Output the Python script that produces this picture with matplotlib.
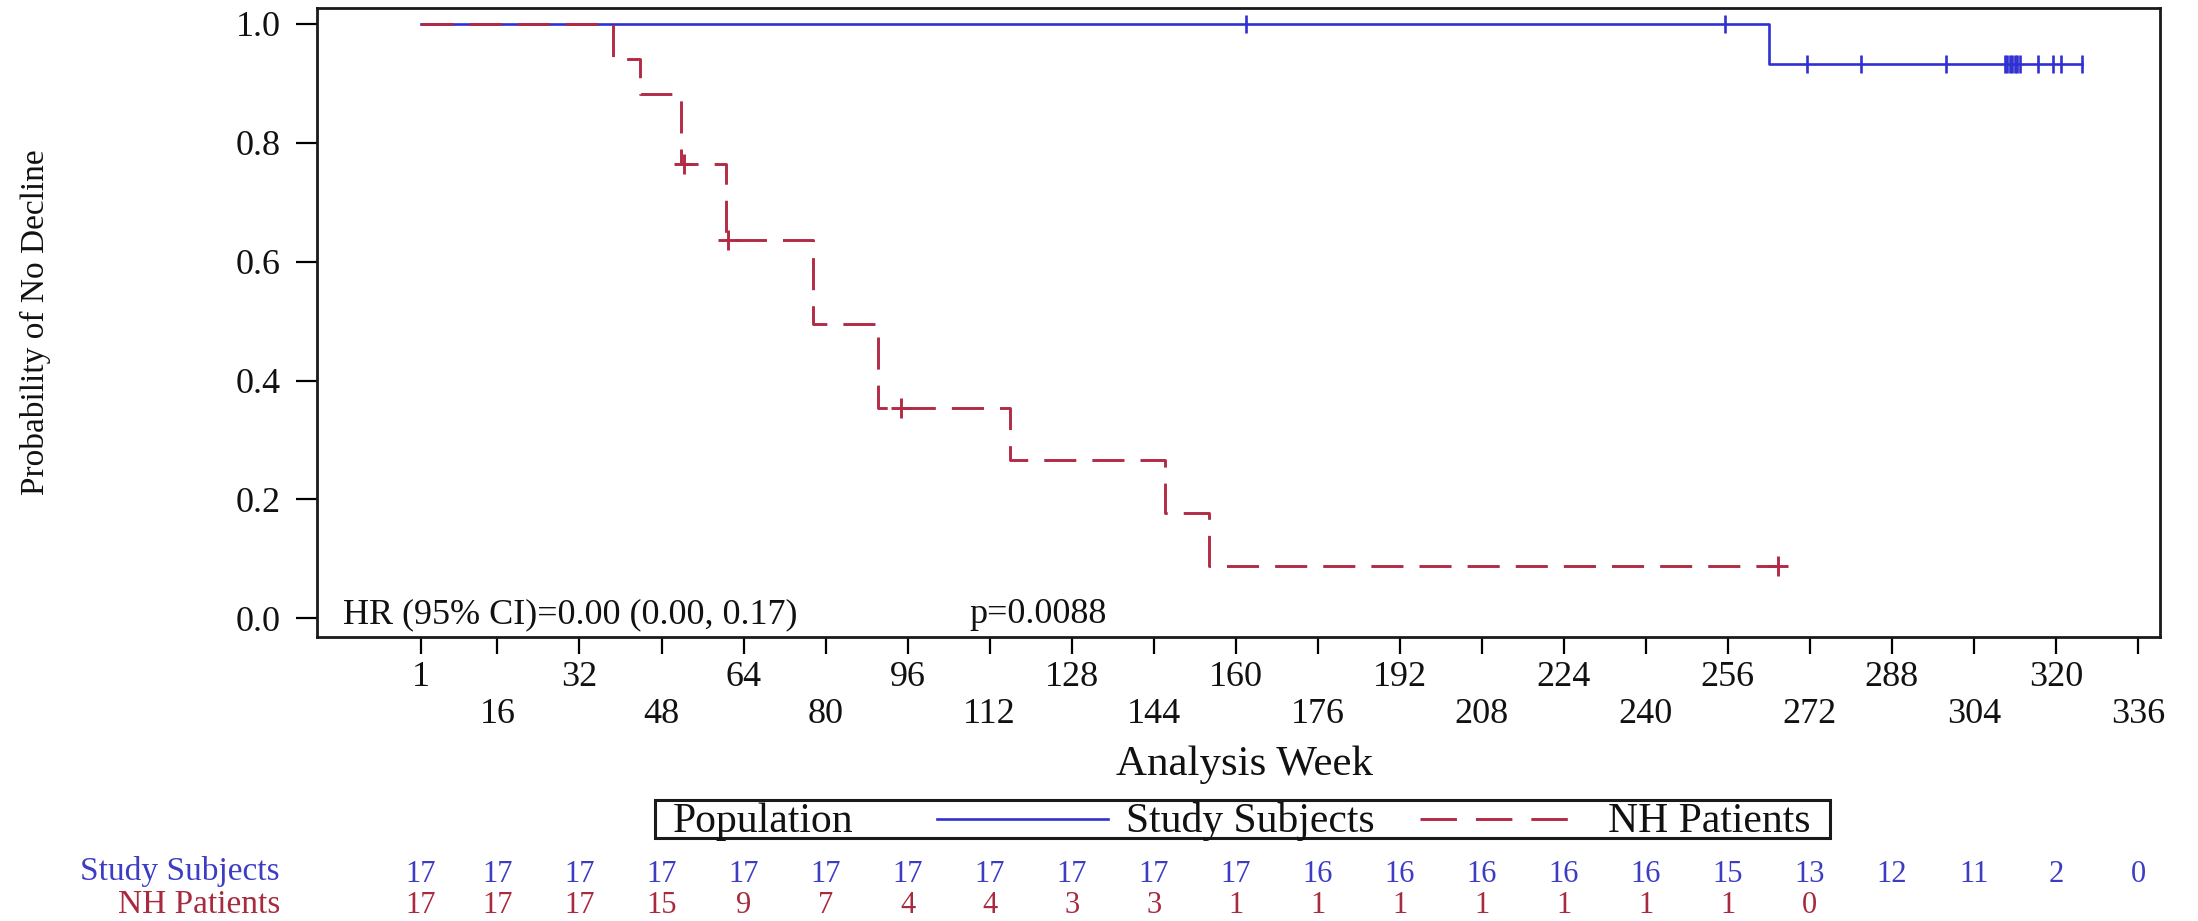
import matplotlib
matplotlib.use("Agg")
import matplotlib.pyplot as plt
from matplotlib.transforms import blended_transform_factory
from matplotlib.patches import Rectangle
from matplotlib.lines import Line2D

# ---------------- data ----------------
week_ticks = [1, 16, 32, 48, 64, 80, 96, 112, 128, 144, 160, 176, 192, 208,
              224, 240, 256, 272, 288, 304, 320, 336]
y_ticks = [0.0, 0.2, 0.4, 0.6, 0.8, 1.0]
y_tick_labels = ["0.0", "0.2", "0.4", "0.6", "0.8", "1.0"]

# Study Subjects (KM step curve)
study_step_weeks = [1, 264, 325]
study_step_surv = [1.0, 0.9333, 0.9333]
study_censor_weeks = [162, 255.5, 271.5, 282, 298.5, 310, 310.5, 311, 311.5,
                      312, 312.5, 313, 316.5, 319.5, 321, 325]
study_censor_surv = [1.0, 1.0, 0.9333, 0.9333, 0.9333, 0.9333, 0.9333, 0.9333,
                     0.9333, 0.9333, 0.9333, 0.9333, 0.9333, 0.9333, 0.9333, 0.9333]

# NH Patients (KM step curve)
nh_step_weeks = [1, 38.5, 43.9, 51.9, 60.6, 77.6, 90.2, 115.9, 146.3, 154.7, 265.7]
nh_step_surv = [1.0, 0.941, 0.882, 0.765, 0.637, 0.495, 0.354, 0.266, 0.177, 0.088, 0.088]
nh_censor_weeks = [52.3, 60.9, 94.8, 265.7]
nh_censor_surv = [0.765, 0.637, 0.354, 0.088]

# Numbers at risk
study_at_risk = [17, 17, 17, 17, 17, 17, 17, 17, 17, 17, 17, 16, 16, 16, 16, 16,
                 15, 13, 12, 11, 2, 0]
nh_at_risk = [17, 17, 17, 15, 9, 7, 4, 4, 3, 3, 1, 1, 1, 1, 1, 1, 1, 0]

group_names = ["Study Subjects", "NH Patients"]
hr_text = "HR (95% CI)=0.00 (0.00, 0.17)"
p_text = "p=0.0088"

# ---------------- style ----------------
plt.rcParams["font.family"] = ["Liberation Serif", "DejaVu Serif"]
BLUE = "#2f2fd2"
RED = "#b22a44"
BLUE_TXT = "#3d3dc4"
RED_TXT = "#a82a3e"
TXT = "#111111"

W, H = 2198, 921
fig = plt.figure(figsize=(W / 100, H / 100), dpi=100)


def fx(px):
    return px / W


def fy(py):
    return 1 - py / H


ax = fig.add_axes([fx(317), fy(637), fx(2160) - fx(317), fy(8) - fy(637)])
ax.set_xlim(-19.2, 340.3)
ax.set_ylim(-0.0315, 1.0267)

for sp in ax.spines.values():
    sp.set_linewidth(2.0)
    sp.set_color("#1a1a1a")

# curves
ax.plot(study_step_weeks, study_step_surv, drawstyle="steps-post", color=BLUE,
        lw=1.9, zorder=3)
ax.plot(study_censor_weeks, study_censor_surv, ls="none", marker="|", ms=13,
        mew=1.9, color=BLUE, zorder=4)
ax.plot(nh_step_weeks, nh_step_surv, drawstyle="steps-post", color=RED, lw=2.1,
        dashes=(11, 5.5), zorder=5)
ax.plot(nh_censor_weeks, nh_censor_surv, ls="none", marker="+", ms=15, mew=2.1,
        color=RED, zorder=6)

# axes ticks
ax.set_xticks(week_ticks)
ax.tick_params(axis="x", length=12, width=1.6, labelbottom=False)
ax.set_yticks(y_ticks)
ax.set_yticklabels(y_tick_labels)
ax.tick_params(axis="y", length=15, width=1.6, labelsize=26, pad=11,
               labelcolor=TXT)

# staggered x tick labels
trans_xfig = blended_transform_factory(ax.transData, fig.transFigure)
for i, wk in enumerate(week_ticks):
    ypix = 686 if i % 2 == 0 else 723
    ax.text(wk, fy(ypix), str(wk), transform=trans_xfig, ha="center",
            va="baseline", fontsize=26, color=TXT)

# annotation
fig.text(fx(343), fy(623), hr_text, fontsize=26, va="baseline", ha="left",
         color=TXT)
fig.text(fx(969), fy(623), p_text, fontsize=26, va="baseline", ha="left",
         color=TXT)

# axis labels
fig.text(fx(1244), fy(775), "Analysis Week", fontsize=31, ha="center",
         va="baseline", color=TXT)
fig.text(fx(35), fy(322), "Probability of No Decline", fontsize=24,
         rotation=90, ha="center", va="center", color=TXT)

# legend (drawn manually in figure coordinates)
fig.patches.append(Rectangle((fx(655), fy(838)), fx(1830) - fx(655),
                             fy(800) - fy(838), transform=fig.transFigure,
                             fill=False, edgecolor="#1a1a1a", lw=2.2))
fig.text(fx(673), fy(832), "Population", fontsize=30, va="baseline",
         ha="left", color=TXT)
fig.lines.append(Line2D([fx(937), fx(1108)], [fy(819), fy(819)],
                        transform=fig.transFigure, color=BLUE, lw=1.9))
fig.text(fx(1126), fy(832), group_names[0], fontsize=30, va="baseline",
         ha="left", color=TXT)
fig.lines.append(Line2D([fx(1420), fx(1573)], [fy(819), fy(819)],
                        transform=fig.transFigure, color=RED, lw=2.1,
                        dashes=(12.5, 6.5)))
fig.text(fx(1608), fy(832), group_names[1], fontsize=30, va="baseline",
         ha="left", color=TXT)

# numbers at risk table
fig.text(fx(280), fy(880), group_names[0], fontsize=24, va="baseline",
         ha="right", color=BLUE_TXT)
fig.text(fx(280), fy(913), group_names[1], fontsize=24, va="baseline",
         ha="right", color=RED_TXT)
for wk, n in zip(week_ticks, study_at_risk):
    ax.text(wk, fy(882), str(n), transform=trans_xfig, ha="center",
            va="baseline", fontsize=22, color=BLUE_TXT)
for wk, n in zip(week_ticks, nh_at_risk):
    ax.text(wk, fy(913), str(n), transform=trans_xfig, ha="center",
            va="baseline", fontsize=22, color=RED_TXT)

fig.savefig("out.png", dpi=100)
